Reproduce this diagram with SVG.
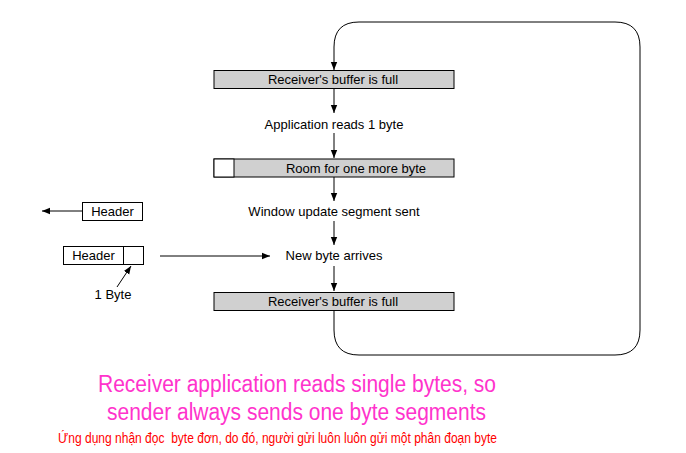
<svg xmlns="http://www.w3.org/2000/svg" width="686" height="453" viewBox="0 0 686 453">
<style>
.t{font-family:"Liberation Sans",Arial,sans-serif;font-size:13px;fill:#000}
.c{text-anchor:middle}
.box{fill:#d0d0d0;stroke:#000;stroke-width:1}
.wbox{fill:#fff;stroke:#000;stroke-width:1}
.ln{fill:none;stroke:#000;stroke-width:1}
.pk{font-family:"Liberation Sans",Arial,sans-serif;font-size:23px;fill:#ff33cc}
.vi{font-family:"Liberation Sans","Noto Sans",sans-serif;font-size:14px;fill:#ff0000;white-space:pre}
</style>
<defs>
<marker id="ah" viewBox="0 0 10 10" refX="10" refY="5" markerWidth="8" markerHeight="8" markerUnits="userSpaceOnUse" orient="auto">
<path d="M0,1 L10,5 L0,9 z" fill="#000"/>
</marker>
</defs>
<rect width="686" height="453" fill="#fff"/>
<g id="connectors">
<path class="ln" d="M334,292 L334,330 Q334,355 359,355 L615,355 Q640,355 640,330 L640,47 Q640,22 615,22 L359,22 Q334,22 334,47 L334,70" marker-end="url(#ah)"/>
<line class="ln" x1="334" y1="89" x2="334" y2="113" marker-end="url(#ah)"/>
<line class="ln" x1="334" y1="133" x2="334" y2="158" marker-end="url(#ah)"/>
<line class="ln" x1="275" y1="168" x2="235" y2="168" marker-end="url(#ah)"/>
<line class="ln" x1="334" y1="177" x2="334" y2="201" marker-end="url(#ah)"/>
<line class="ln" x1="334" y1="221" x2="334" y2="245" marker-end="url(#ah)"/>
<line class="ln" x1="334" y1="266" x2="334" y2="291" marker-end="url(#ah)"/>
<line class="ln" x1="82" y1="211" x2="42" y2="211" marker-end="url(#ah)"/>
<line class="ln" x1="160" y1="256" x2="270" y2="256" marker-end="url(#ah)"/>
<line class="ln" x1="117" y1="287" x2="131" y2="266" marker-end="url(#ah)"/>
</g>
<g id="buffer-full-1">
<rect class="box" x="214" y="70.5" width="240" height="18"/>
<text class="t c" x="333" y="84">Receiver's buffer is full</text>
</g>
<g id="app-reads">
<text class="t c" x="334" y="129">Application reads 1 byte</text>
</g>
<g id="room">
<rect class="box" x="214" y="159" width="240" height="18"/>
<rect class="wbox" x="214" y="159" width="20" height="18"/>
<text class="t c" x="356" y="172.5">Room for one more byte</text>
</g>
<g id="window-update">
<text class="t c" x="334" y="216">Window update segment sent</text>
</g>
<g id="new-byte">
<text class="t c" x="334" y="260">New byte arrives</text>
</g>
<g id="buffer-full-2">
<rect class="box" x="214" y="292.5" width="240" height="18"/>
<text class="t c" x="333" y="306">Receiver's buffer is full</text>
</g>
<g id="header-1">
<rect class="wbox" x="82.5" y="202.5" width="60" height="18"/>
<text class="t c" x="112.5" y="216">Header</text>
</g>
<g id="header-2">
<rect class="wbox" x="63.5" y="246.5" width="80" height="18"/>
<line class="ln" x1="123.5" y1="246.5" x2="123.5" y2="264.5"/>
<text class="t c" x="93.5" y="260">Header</text>
</g>
<g id="one-byte">
<text class="t c" x="113" y="299">1 Byte</text>
</g>
<g id="caption">
<text class="pk" x="98" y="392" textLength="398" lengthAdjust="spacingAndGlyphs">Receiver application reads single bytes, so</text>
<text class="pk" x="107" y="420" textLength="379" lengthAdjust="spacingAndGlyphs">sender always sends one byte segments</text>
<text class="vi" x="58" y="443" textLength="439" lengthAdjust="spacingAndGlyphs">Ứng dụng nhận đọc  byte đơn, do đó, người gửi luôn luôn gửi một phân đoạn byte</text>
</g>
</svg>
